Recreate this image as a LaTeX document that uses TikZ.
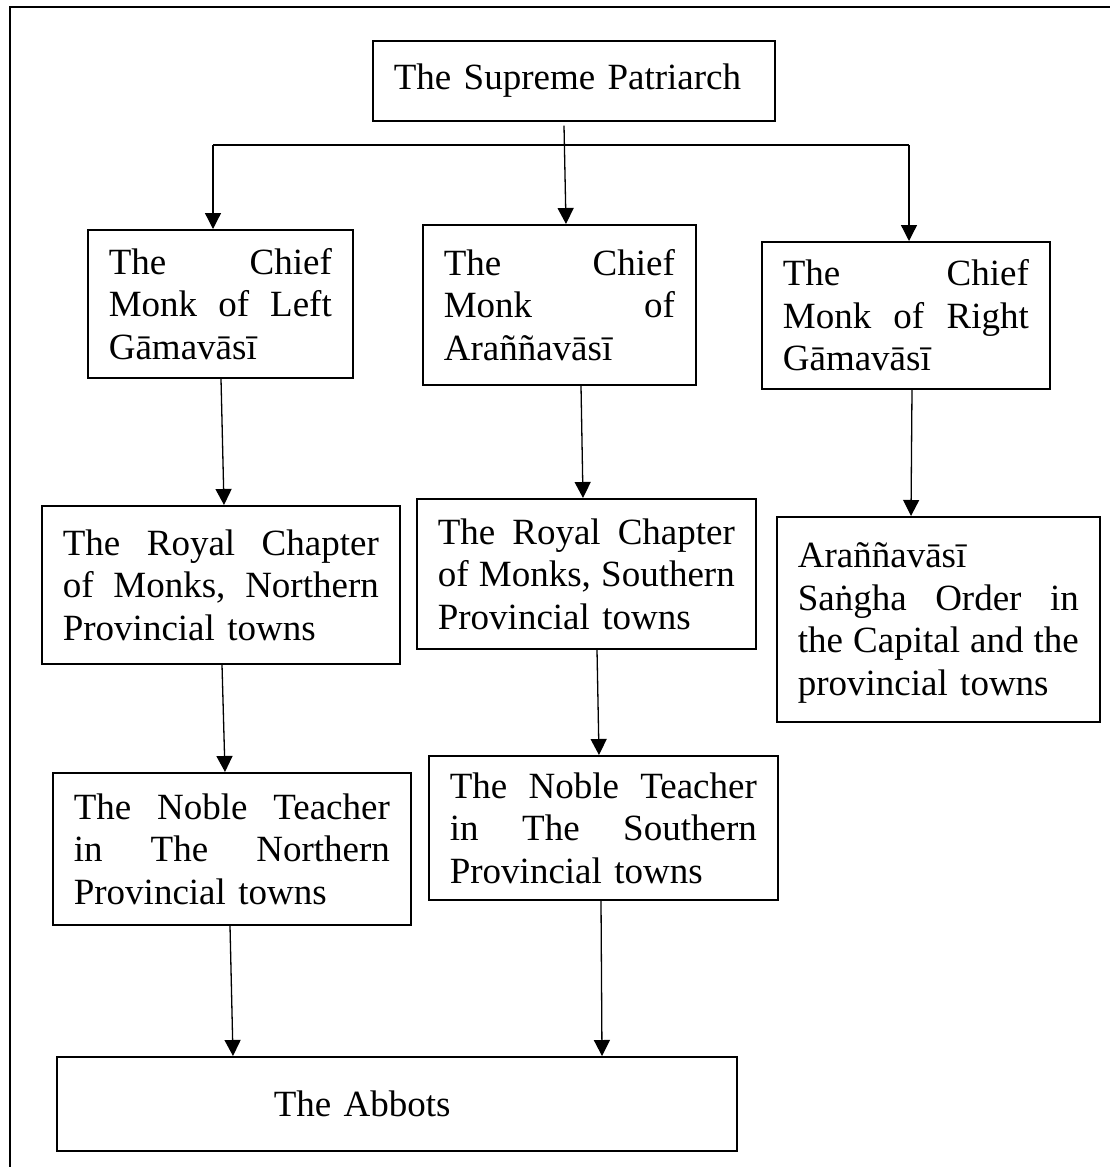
\documentclass[tikz,border=0pt]{standalone}
\usepackage{fontspec}
\setmainfont{Liberation Serif}
\usetikzlibrary{arrows.meta}
% stretchable inter-word space for fully justified lines
\newcommand{\js}{\hskip 0.25em plus 1fill\relax}
\begin{document}
\begin{tikzpicture}[x=1pt,y=-1pt,
  box/.style={draw, line width=1.7pt, inner xsep=21pt, inner ysep=0pt,
    align=left, anchor=north west, font=\fontsize{37}{42.5}\selectfont},
  link/.style={line width=1.3pt},
  arr/.style={link, -{Triangle[width=16pt,length=16pt]}},
  frame/.style={line width=2.8pt}]
\useasboundingbox (0,0) rectangle (1110,1167);
% outer frame, running off the right and bottom edges
\begin{scope}
  \clip (0,0) rectangle (1110,1167);
  \draw[frame] (10,7) rectangle (1130,1190);
\end{scope}

% top level
\node[box, text width=360pt, minimum height=80pt] (sp) at (372,40) {The Supreme Patriarch};

% chief monks
\node[box, text width=223pt, minimum height=148pt] (lc) at (87,229)
  {The\js Chief\\Monk\js of\js Left\\Gāmavāsī};
\node[box, text width=231pt, minimum height=160pt] (mc) at (422,224)
  {The\js Chief\\Monk\js of\\Araññavāsī};
\node[box, text width=246pt, minimum height=147pt] (rc) at (761,241)
  {The\js Chief\\Monk\js of\js Right\\Gāmavāsī};

% royal chapters and the forest-dwelling order
\node[box, text width=316pt, minimum height=158pt] (lr) at (41,505)
  {The\js Royal\js Chapter\\of\js Monks,\js Northern\\Provincial towns};
\node[box, text width=297pt, minimum height=150pt] (mr) at (416,498)
  {The\js Royal\js Chapter\\of\js Monks,\js Southern\\Provincial towns};
\node[box, text width=281pt, minimum height=205pt] (ra) at (776,516)
  {Araññavāsī\\Saṅgha\js Order\js in\\the\js Capital\js and\js the\\\smash{provincial} towns};

% noble teachers
\node[box, text width=316pt, minimum height=152pt] (ln) at (52,772)
  {The\js Noble\js Teacher\\in\js The\js Northern\\Provincial towns};
\node[box, text width=307pt, minimum height=144pt] (mn) at (428,755)
  {The\js Noble\js Teacher\\in\js The\js Southern\\Provincial towns};

% abbots
\node[box, text width=638pt, minimum height=94pt] (ab) at (56,1056)
  {\hspace*{196pt}The Abbots};

% branching from the top
\coordinate (busL) at (213,145);
\coordinate (busR) at (909,145);
\draw[link] (busL) -- (busR);
\draw[arr] ([xshift=192pt,yshift=-4pt]sp.south west) -- ([xshift=144pt]mc.north west);
\draw[arr] (busL) -- ([xshift=126pt]lc.north west);
\draw[arr] (busR) -- ([xshift=148pt]rc.north west);

% chains downward
\draw[arr] ([xshift=134pt]lc.south west) -- ([xshift=183pt]lr.north west);
\draw[arr] ([xshift=159pt]mc.south west) -- ([xshift=167pt]mr.north west);
\draw[arr] ([xshift=151pt]rc.south west) -- ([xshift=135pt]ra.north west);
\draw[arr] ([xshift=181pt]lr.south west) -- ([xshift=173pt]ln.north west);
\draw[arr] ([xshift=181pt]mr.south west) -- ([xshift=171pt]mn.north west);
\draw[arr] ([xshift=178pt]ln.south west) -- ([xshift=177pt]ab.north west);
\draw[arr] ([xshift=173pt]mn.south west) -- ([xshift=546pt]ab.north west);
\end{tikzpicture}
\end{document}
